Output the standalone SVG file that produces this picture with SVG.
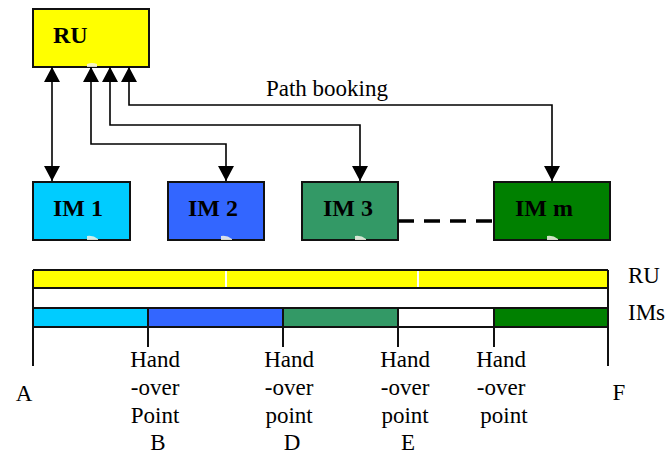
<svg xmlns="http://www.w3.org/2000/svg" width="667" height="454" viewBox="0 0 667 454">
  <defs>
    <style>
      text { font-family: 'Liberation Serif', Tinos, Times, serif; fill: #000; }
      .box { stroke: #111; stroke-width: 2; }
      .lbl { font-weight: bold; font-size: 24px; }
      .txt { font-size: 23px; }
      .wire { fill: none; stroke: #000; stroke-width: 1.6; marker-start: url(#head); marker-end: url(#head); }
      .edge { stroke: #111; stroke-width: 2; fill: none; }
      .glint { fill: #f4f4e8; opacity: 0.85; }
    </style>
    <marker id="head" viewBox="0 0 16 16" refX="15" refY="8" markerWidth="16" markerHeight="16" markerUnits="userSpaceOnUse" orient="auto-start-reverse">
      <path d="M0,0 L15,8 L0,16 z" fill="#000"/>
    </marker>
  </defs>

  <rect width="667" height="454" fill="#fff"/>

  <!-- RU node -->
  <g id="ru">
    <rect class="box" x="33" y="9" width="116" height="58" fill="#ffff00"/>
    <path class="glint" d="M87,67 L87,64 Q92,62 97,64 L97,67 z"/>
    <text class="lbl" x="53" y="43">RU</text>
  </g>

  <!-- IM nodes -->
  <g id="im1">
    <rect class="box" x="33" y="182" width="97" height="58" fill="#00ccff"/>
    <path class="glint" d="M87,240 L87,236 Q93,235 98,239 L98,240 z"/>
    <text class="lbl" x="53" y="216">IM 1</text>
  </g>
  <g id="im2">
    <rect class="box" x="168" y="182" width="96" height="58" fill="#3366ff"/>
    <path class="glint" d="M221,240 L221,236 Q227,235 232,239 L232,240 z"/>
    <text class="lbl" x="188" y="216">IM 2</text>
  </g>
  <g id="im3">
    <rect class="box" x="302" y="182" width="96" height="58" fill="#339966"/>
    <path class="glint" d="M355,240 L355,236 Q361,235 366,239 L366,240 z"/>
    <text class="lbl" x="323" y="216">IM 3</text>
  </g>
  <g id="imm">
    <rect class="box" x="494" y="182" width="116" height="58" fill="#008000"/>
    <path class="glint" d="M547,240 L547,236 Q553,235 558,239 L558,240 z"/>
    <text class="lbl" x="515" y="216">IM m</text>
  </g>

  <!-- path booking connectors -->
  <g id="connectors">
    <path class="wire" d="M52,67 V181"/>
    <path class="wire" d="M91,67 V144 H226 V181"/>
    <path class="wire" d="M110,67 V125 H360 V181"/>
    <path class="wire" d="M129,67 V105 H552 V181"/>
    <line x1="398" y1="221" x2="494" y2="221" stroke="#000" stroke-width="3.5" stroke-dasharray="16 10"/>
    <text class="txt" x="327" y="96" text-anchor="middle" font-size="24">Path booking</text>
  </g>

  <!-- RU / IMs timeline -->
  <g id="timeline">
    <rect x="33" y="270" width="575" height="18" fill="#ffff00"/>
    <line x1="226" y1="270" x2="226" y2="288" stroke="#fff" stroke-width="2"/>
    <line x1="418" y1="270" x2="418" y2="288" stroke="#fff" stroke-width="2"/>
    <rect x="33" y="308" width="115" height="19" fill="#00ccff"/>
    <rect x="148" y="308" width="135" height="19" fill="#3366ff"/>
    <rect x="283" y="308" width="115" height="19" fill="#339966"/>
    <rect x="398" y="308" width="96" height="19" fill="#ffffff"/>
    <rect x="494" y="308" width="114" height="19" fill="#008000"/>
    <path class="edge" d="M33,270 H608 M33,288 H608 M33,308 H608 M33,327 H608"/>
    <path class="edge" d="M33,270 V366 M608,270 V366"/>
    <path class="edge" d="M148,308 V347 M283,308 V347 M398,308 V347 M494,308 V347"/>
    <text class="txt" x="628" y="283">RU</text>
    <text class="txt" x="628" y="320">IMs</text>
    <text class="txt" x="24" y="401" text-anchor="middle" font-size="24">A</text>
    <text class="txt" x="619" y="400" text-anchor="middle" font-size="24">F</text>
    <text class="txt" text-anchor="middle">
      <tspan x="158" y="367">Hand</tspan>
      <tspan x="158" y="395">-over</tspan>
      <tspan x="158" y="423">Point</tspan>
      <tspan x="158" y="450">B</tspan>
    </text>
    <text class="txt" text-anchor="middle">
      <tspan x="292" y="367">Hand</tspan>
      <tspan x="292" y="395">-over</tspan>
      <tspan x="292" y="423">point</tspan>
      <tspan x="292" y="450">D</tspan>
    </text>
    <text class="txt" text-anchor="middle">
      <tspan x="408" y="367">Hand</tspan>
      <tspan x="408" y="395">-over</tspan>
      <tspan x="408" y="423">point</tspan>
      <tspan x="408" y="450">E</tspan>
    </text>
    <text class="txt" text-anchor="middle">
      <tspan x="504" y="367">Hand</tspan>
      <tspan x="504" y="395">-over</tspan>
      <tspan x="504" y="423">point</tspan>
    </text>
  </g>
</svg>
